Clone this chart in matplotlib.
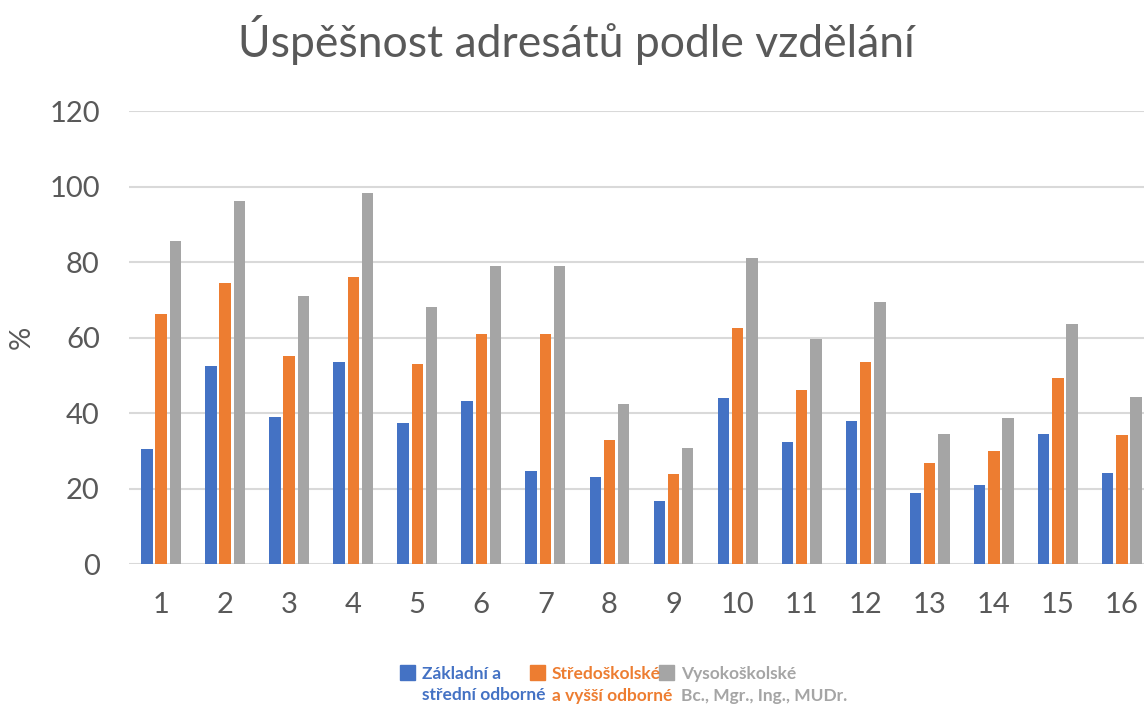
import numpy as np
import matplotlib.pyplot as plt
from matplotlib.patches import Rectangle

plt.rcParams['font.family'] = ['Lato', 'DejaVu Sans']

kategorie = [str(i) for i in range(1, 17)]
zakladni = [30.5, 52.6, 39.0, 53.5, 37.3, 43.2, 24.6, 23.0, 16.8, 44.0, 32.5, 37.9, 18.9, 21.0, 34.5, 24.3]
stredoskolske = [66.2, 74.4, 55.1, 76.1, 53.0, 60.9, 60.9, 32.8, 23.8, 62.5, 46.1, 53.5, 26.7, 30.0, 49.3, 34.2]
vysokoskolske = [85.5, 96.2, 71.1, 98.2, 68.2, 78.9, 78.9, 42.4, 30.8, 81.0, 59.7, 69.5, 34.5, 38.7, 63.7, 44.4]
popisky = ["Základní a\nstřední odborné", "Středoškolské\na vyšší odborné", "Vysokoškolské\nBc., Mgr., Ing., MUDr."]
barvy = ['#4472C4', '#ED7D31', '#A5A5A5']

W, H = 1144, 706
fig = plt.figure(figsize=(W / 100, H / 100), dpi=100)
# osa je vpravo oriznuta stejne jako v predloze
ax = fig.add_axes([129 / W, 1 - 564.3 / H, (1154 - 129) / W, (564.3 - 111) / H])

x = np.arange(1, 17)
for i, (serie, barva) in enumerate(zip([zakladni, stredoskolske, vysokoskolske], barvy)):
    ax.bar(x + (i - 1) * 0.222, serie, width=0.178, color=barva, zorder=3)

ax.set_xlim(0.5, 16.5)
ax.set_ylim(0, 120)
ax.set_yticks(range(0, 121, 20))
ax.set_xticks(x)
ax.set_xticklabels(kategorie)
ax.yaxis.grid(True, color='#D9D9D9', linewidth=1.5, zorder=0)
ax.set_axisbelow(True)
for s in ax.spines.values():
    s.set_visible(False)
ax.tick_params(axis='both', length=0, labelsize=21, labelcolor='#595959')
ax.tick_params(axis='y', pad=21)
ax.tick_params(axis='x', pad=20)

fig.text(576 / W, 1 - 57 / H, 'Úspěšnost adresátů podle vzdělání', ha='center', va='baseline',
         fontsize=32, color='#595959')
fig.text(22 / W, 1 - 337 / H, '%', rotation=90, ha='center', va='center', fontsize=21, color='#595959')

# legenda - rucne jako v Excelu
leg_x = [400, 530, 659]
for lx, text, barva in zip(leg_x, popisky, barvy):
    fig.patches.append(Rectangle((lx / W, 1 - 680 / H), 15 / W, 15 / H, color=barva,
                                 transform=fig.transFigure, figure=fig))
    radek1, radek2 = text.split('\n')
    fig.text((lx + 22) / W, 1 - 679 / H, radek1, ha='left', va='baseline', fontsize=12.5,
             fontweight='bold', color=barva)
    fig.text((lx + 22) / W, 1 - 700.5 / H, radek2, ha='left', va='baseline', fontsize=12.5,
             fontweight='bold', color=barva)

fig.savefig('out.png', dpi=100)
